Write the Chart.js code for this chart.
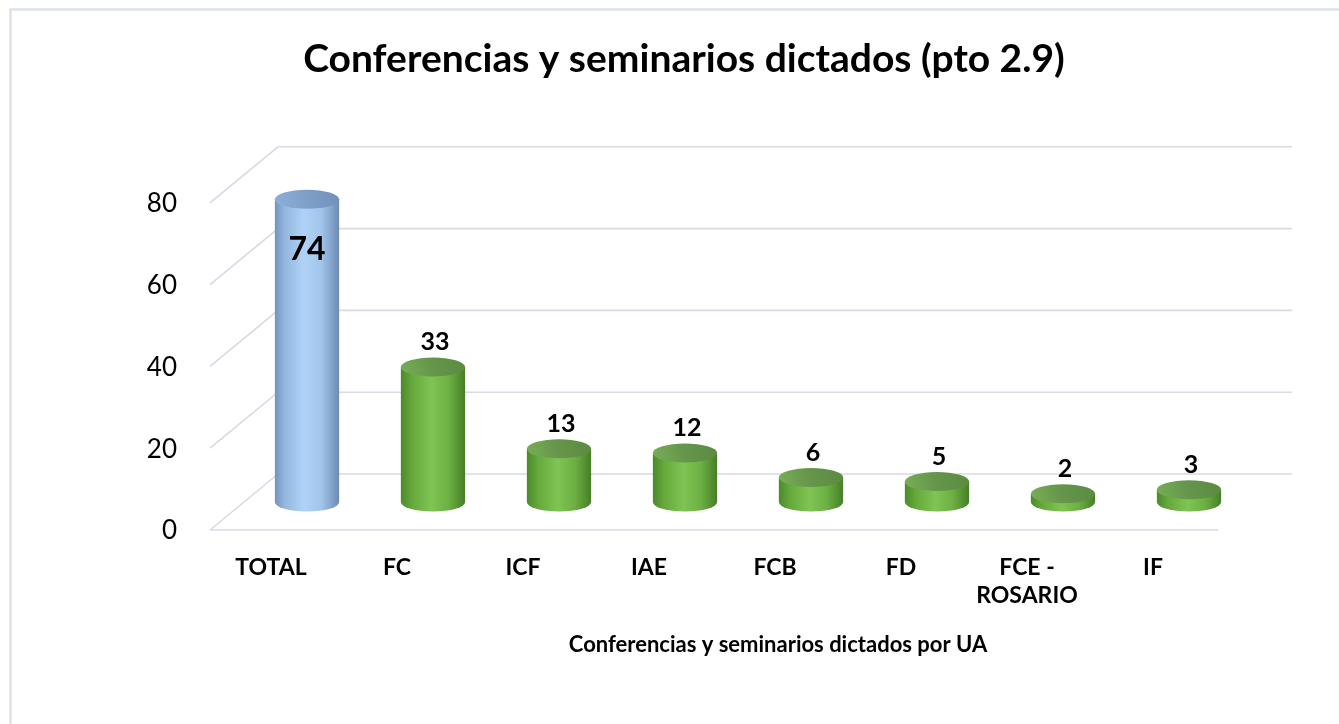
<!DOCTYPE html>
<html><head><meta charset="utf-8">
<script src="https://cdn.jsdelivr.net/npm/chart.js@4.4.1/dist/chart.umd.min.js"></script>
<style>html,body{margin:0;padding:0;background:#fff;overflow:hidden}canvas{display:block}</style>
</head><body>
<canvas id="c" width="1339" height="724"></canvas>
<script>
const categories = ['TOTAL', 'FC', 'ICF', 'IAE', 'FCB', 'FD', ['FCE -', 'ROSARIO'], 'IF'];
const values = [74, 33, 13, 12, 6, 5, 2, 3];
const yTicks = [0, 20, 40, 60, 80];
const chartTitle = 'Conferencias y seminarios dictados (pto 2.9)';
const xAxisTitle = 'Conferencias y seminarios dictados por UA';

const DX = 34, DY = 28;      // half depth offset of the 3D box
const RY = 9.5;              // ellipse vertical radius
const FONT = 'Lato, "Open Sans", sans-serif';

function bodyGradient(ctx, x0, x1, blue) {
  const g = ctx.createLinearGradient(x0, 0, x1, 0);
  if (blue) {
    g.addColorStop(0, '#7393BC'); g.addColorStop(0.15, '#94B7DF');
    g.addColorStop(0.45, '#AFD2F6'); g.addColorStop(0.72, '#A2C5EC');
    g.addColorStop(1, '#6D8BB2');
  } else {
    g.addColorStop(0, '#4B8A2B'); g.addColorStop(0.18, '#66AA3C');
    g.addColorStop(0.48, '#80C455'); g.addColorStop(0.75, '#6CAF42');
    g.addColorStop(1, '#467F27');
  }
  return g;
}

const bgPlugin = {
  id: 'bg',
  beforeDraw(chart) {
    const c = chart.ctx;
    c.save();
    c.fillStyle = '#fff';
    c.fillRect(0, 0, chart.width, chart.height);
    c.strokeStyle = '#DCE1EA';
    c.lineWidth = 2.5;
    c.beginPath();
    c.moveTo(10.5, chart.height); c.lineTo(10.5, 9.5); c.lineTo(chart.width, 9.5);
    c.stroke();
    c.restore();
  }
};

const gridPlugin = {
  id: 'grid3d',
  beforeDatasetsDraw(chart) {
    const c = chart.ctx, a = chart.chartArea, y = chart.scales.y;
    c.save();
    c.strokeStyle = '#D6DBE4';
    c.lineWidth = 1.6;
    yTicks.forEach(v => {
      const p = y.getPixelForValue(v);
      c.beginPath();
      c.moveTo(a.left - DX, p + DY);
      c.lineTo(a.left + DX, p - DY);
      c.lineTo(a.right + DX + 6, p - DY);
      c.stroke();
    });
    const p0 = y.getPixelForValue(0);
    c.beginPath();
    c.moveTo(a.left - DX, p0 + DY);
    c.lineTo(a.right - DX, p0 + DY);
    c.stroke();
    c.restore();
  }
};

const cylPlugin = {
  id: 'cyl',
  afterDatasetsDraw(chart) {
    const c = chart.ctx;
    const meta = chart.getDatasetMeta(0);
    meta.data.forEach((el, i) => {
      const blue = i === 0;
      const w = el.width, x0 = el.x - w / 2, x1 = el.x + w / 2;
      c.save();
      c.fillStyle = bodyGradient(c, x0, x1, blue);
      c.beginPath();
      c.ellipse(el.x, el.base, w / 2, RY, 0, 0, Math.PI);
      c.fill();
      const tg = c.createLinearGradient(x0, el.y + RY, x1, el.y - RY);
      if (blue) { tg.addColorStop(0, '#8FB0D8'); tg.addColorStop(0.5, '#7E9FC8'); tg.addColorStop(1, '#7090B8'); }
      else { tg.addColorStop(0, '#78AF56'); tg.addColorStop(0.5, '#65944B'); tg.addColorStop(1, '#5B8A41'); }
      c.fillStyle = tg;
      c.beginPath();
      c.ellipse(el.x, el.y, w / 2, RY, 0, 0, Math.PI * 2);
      c.fill();
      c.fillStyle = '#000';
      c.textAlign = 'center';
      c.textBaseline = 'middle';
      if (i === 0) {
        c.font = 'bold 32px ' + FONT;
        c.fillText(String(values[i]), el.x, el.y + 50);
      } else {
        c.font = 'bold 25px ' + FONT;
        c.fillText(String(values[i]), el.x + 2, el.y - 25);
      }
      c.restore();
    });
    const a = chart.chartArea;
    c.save();
    c.fillStyle = '#000';
    c.font = 'bold 22px ' + FONT;
    c.textAlign = 'center';
    c.textBaseline = 'middle';
    c.fillText(xAxisTitle, (a.left + a.right) / 2 + 30, 645);
    c.restore();
  }
};

new Chart(document.getElementById('c'), {
  type: 'bar',
  data: {
    labels: categories,
    datasets: [{
      data: values,
      backgroundColor(ctx) {
        const chart = ctx.chart;
        if (!chart.chartArea || !chart.scales.x) return '#7DC04A';
        const xs = chart.scales.x;
        const px = xs.getPixelForValue(ctx.dataIndex);
        const hw = (xs.width / categories.length) * 0.51 / 2;
        return bodyGradient(chart.ctx, px - hw, px + hw, ctx.dataIndex === 0);
      },
      borderWidth: 0,
      categoryPercentage: 1,
      barPercentage: 0.51
    }]
  },
  options: {
    responsive: false,
    devicePixelRatio: 1,
    animation: false,
    events: [],
    layout: { padding: { left: 116, right: 87, top: 0, bottom: 0 } },
    plugins: {
      legend: { display: false },
      tooltip: { enabled: false },
      title: {
        display: true,
        text: chartTitle,
        color: '#000',
        font: { family: FONT, size: 39, weight: 'bold', lineHeight: 1.2 },
        padding: { top: 36, bottom: 92 }
      }
    },
    scales: {
      x: {
        grid: { display: false, drawTicks: false },
        border: { display: false },
        ticks: {
          color: '#000',
          font: { family: FONT, size: 23, weight: 'bold', lineHeight: 1.2 },
          padding: 52,
          labelOffset: -36,
          maxRotation: 0,
          autoSkip: false
        },
        afterFit(s) { s.height = 222; }
      },
      y: {
        min: 0, max: 80,
        grid: { display: false, drawTicks: false },
        border: { display: false },
        afterBuildTicks(s) { s.ticks = yTicks.map(v => ({ value: v })); },
        ticks: {
          color: '#000',
          font: { family: FONT, size: 26 },
          padding: 67,
          labelOffset: 29
        },
        afterFit(s) { s.width = 128; }
      }
    }
  },
  plugins: [bgPlugin, gridPlugin, cylPlugin]
});
</script>
</body></html>
